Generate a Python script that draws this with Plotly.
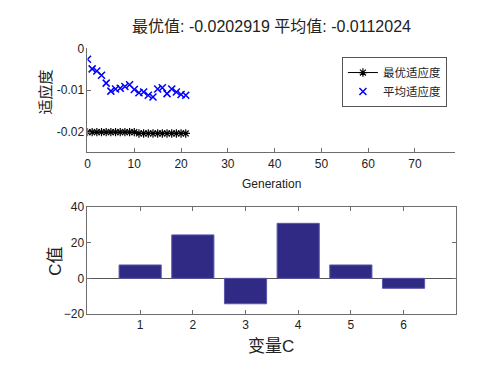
import plotly.graph_objects as go

generations = list(range(22))
best_fitness = [-0.0200]*11 + [-0.0203]*11
mean_fitness = [-0.0026, -0.0049, -0.0054, -0.0064, -0.0083, -0.0102, -0.0097, -0.0095,
                -0.0091, -0.0087, -0.0098, -0.0106, -0.0104, -0.0112, -0.0116, -0.0097,
                -0.0094, -0.0108, -0.0097, -0.0104, -0.0110, -0.0112]
var_idx = [1, 2, 3, 4, 5, 6]
c_values = [7.5, 24.4, -14.3, 30.9, 7.5, -5.6]

title_text = "最优值: -0.0202919 平均值: -0.0112024"
FONT = "Liberation Sans, Arial, Noto Sans CJK SC"
AX = "#6e6e6e"

fig = go.Figure()
fig.add_trace(go.Scatter(x=generations, y=best_fitness, mode="lines+markers", name="最优适应度",
                         line=dict(color="black", width=1),
                         marker=dict(symbol="asterisk-open", size=7, color="black",
                                     line=dict(color="black", width=1.2)),
                         xaxis="x", yaxis="y"))
fig.add_trace(go.Scatter(x=generations, y=mean_fitness, mode="markers", name="平均适应度",
                         marker=dict(symbol="x-thin-open", size=7, color="blue",
                                     line=dict(color="blue", width=1.5)),
                         xaxis="x", yaxis="y"))
fig.add_trace(go.Bar(x=var_idx, y=c_values, width=0.8, showlegend=False,
                     marker=dict(color="#302a84", line=dict(color="#5a55a8", width=1)),
                     xaxis="x2", yaxis="y2"))

W, H = 492, 370
def px(v): return v / W
def py(v): return 1 - v / H

fig.update_layout(
    width=W, height=H, margin=dict(l=0, r=0, t=0, b=0),
    paper_bgcolor="white", plot_bgcolor="white",
    font=dict(family=FONT, size=12, color="#222"),
    showlegend=True,
    legend=dict(x=px(341), y=py(52), xanchor="left", yanchor="top",
                bordercolor="#555", borderwidth=1, bgcolor="white",
                font=dict(size=11.5, family="Noto Sans CJK SC"),
                itemwidth=30, tracegroupgap=0),
    xaxis=dict(domain=[px(85), px(455)], range=[0, 78.6], tickvals=list(range(0, 80, 10)),
               ticks="inside", ticklen=4, tickcolor=AX, showline=True, linecolor=AX,
               showgrid=False, zeroline=False, anchor="y", tickfont=dict(size=12)),
    yaxis=dict(domain=[py(151), py(43)], range=[-0.0248, 0], tickvals=[0, -0.01, -0.02],
               ticktext=["0", "-0.01", "-0.02"],
               ticks="inside", ticklen=4, tickcolor=AX, showline=True, linecolor=AX,
               showgrid=False, zeroline=False, anchor="x", tickfont=dict(size=12)),
    xaxis2=dict(domain=[px(85), px(456)], range=[0, 7], tickvals=var_idx,
                ticks="inside", ticklen=4, tickcolor=AX, showline=True, linecolor=AX, mirror="ticks",
                showgrid=False, zeroline=False, anchor="y2", tickfont=dict(size=12)),
    yaxis2=dict(domain=[py(319), py(208)], range=[-20, 40], tickvals=[-20, 0, 20, 40],
                ticks="inside", ticklen=4, tickcolor=AX, showline=True, linecolor=AX, mirror="ticks",
                showgrid=False, zeroline=True, zerolinecolor="#555", zerolinewidth=1,
                anchor="x2", tickfont=dict(size=12)),
    annotations=[
        dict(text=title_text, x=px(270), y=py(20), xref="paper", yref="paper",
             xanchor="center", yanchor="middle",
             showarrow=False, font=dict(size=16, family=FONT, color="#222")),
        dict(text="Generation", x=px(270), y=py(184), xref="paper", yref="paper",
             xanchor="center", yanchor="middle",
             showarrow=False, font=dict(size=12, family=FONT, color="#222")),
        dict(text="适应度", x=px(42), y=py(88), xref="paper", yref="paper", textangle=-90,
             xanchor="center", yanchor="middle",
             showarrow=False, font=dict(size=15, family="Noto Sans CJK SC", color="#222")),
        dict(text="C值", x=px(52), y=py(264), xref="paper", yref="paper", textangle=-90,
             xanchor="center", yanchor="middle",
             showarrow=False, font=dict(size=17, family=FONT, color="#222")),
        dict(text="变量C", x=px(270), y=py(353), xref="paper", yref="paper",
             xanchor="center", yanchor="middle",
             showarrow=False, font=dict(size=17, family=FONT, color="#222")),
    ],
)

fig.write_html("out.html", config={"displayModeBar": False},
               post_script="document.body.style.margin='0';document.body.style.overflow='hidden';")
